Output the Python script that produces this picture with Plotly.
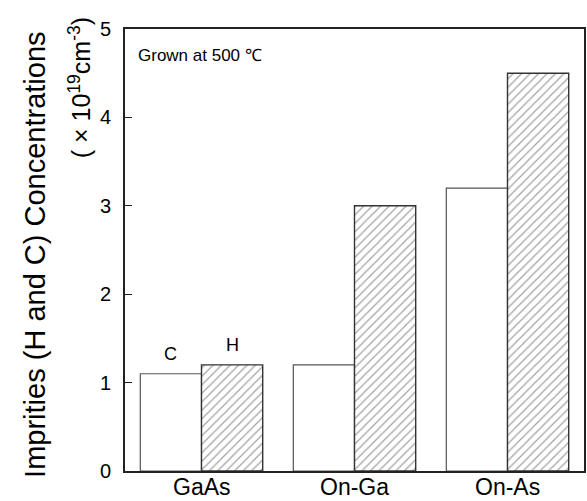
import plotly.graph_objects as go

categories = ["GaAs", "On-Ga", "On-As"]
carbon = [1.1, 1.2, 3.2]
hydrogen = [1.2, 3.0, 4.5]
y_ticks = [0, 1, 2, 3, 4, 5]

FONT = "Liberation Sans, Arial, sans-serif"

fig = go.Figure()
fig.add_trace(go.Bar(
    x=categories, y=carbon, name="C",
    marker=dict(color="white", line=dict(color="#555555", width=1.2)),
))
fig.add_trace(go.Bar(
    x=categories, y=hydrogen, name="H",
    marker=dict(color="white", line=dict(color="#333333", width=1.4),
                pattern=dict(shape="/", fgcolor="#444444", bgcolor="white",
                             size=6, solidity=0.2)),
))

# labels C and H above the first group's bars
fig.add_annotation(x=-0.2, y=carbon[0], text="C", showarrow=False, yshift=20,
                   font=dict(size=18, color="black", family=FONT))
fig.add_annotation(x=0.2, y=hydrogen[0], text="H", showarrow=False, yshift=20,
                   font=dict(size=18, color="black", family=FONT))

# category labels just below the axis
for cat in categories:
    fig.add_annotation(x=cat, y=0, yref="paper", yanchor="top", yshift=-1,
                       text=cat, showarrow=False,
                       font=dict(size=23, color="black", family=FONT))

fig.add_annotation(xref="paper", yref="paper", x=0.025, y=0.965, xanchor="left", yanchor="top",
                   text="Grown at 500 ℃", showarrow=False,
                   font=dict(size=17, color="black", family=FONT))

# y-axis title (two lines)
fig.add_annotation(xref="paper", yref="paper", x=-0.196, y=0.489, xanchor="center", yanchor="middle",
                   text="Imprities (H and C) Concentrations", textangle=-90, showarrow=False,
                   font=dict(size=29, color="black", family=FONT))
fig.add_annotation(xref="paper", yref="paper", x=-0.098, y=0.866, xanchor="center", yanchor="middle",
                   text="( × 10<sup>19</sup>cm<sup>-3</sup>)", textangle=-90, showarrow=False,
                   font=dict(size=25, color="black", family=FONT))

fig.update_layout(
    width=587, height=501,
    margin=dict(l=125, r=3, t=29, b=30, autoexpand=False),
    paper_bgcolor="white", plot_bgcolor="white",
    barmode="group", bargap=0.2, bargroupgap=0,
    showlegend=False,
    font=dict(family=FONT, color="black"),
    xaxis=dict(range=[-0.5, 2.5], showline=True, linecolor="#222222", linewidth=2,
               mirror=True, ticks="", showticklabels=False),
    yaxis=dict(range=[0, 5], tickvals=y_ticks, showline=True, linecolor="#222222", linewidth=2,
               mirror=True, ticks="inside", ticklen=7, tickcolor="#222222",
               showgrid=False, zeroline=False, tickfont=dict(size=20), ticklabelstandoff=8),
)

fig.write_html("out.html", config={"displayModeBar": False},
               post_script="document.body.style.margin='0';")
